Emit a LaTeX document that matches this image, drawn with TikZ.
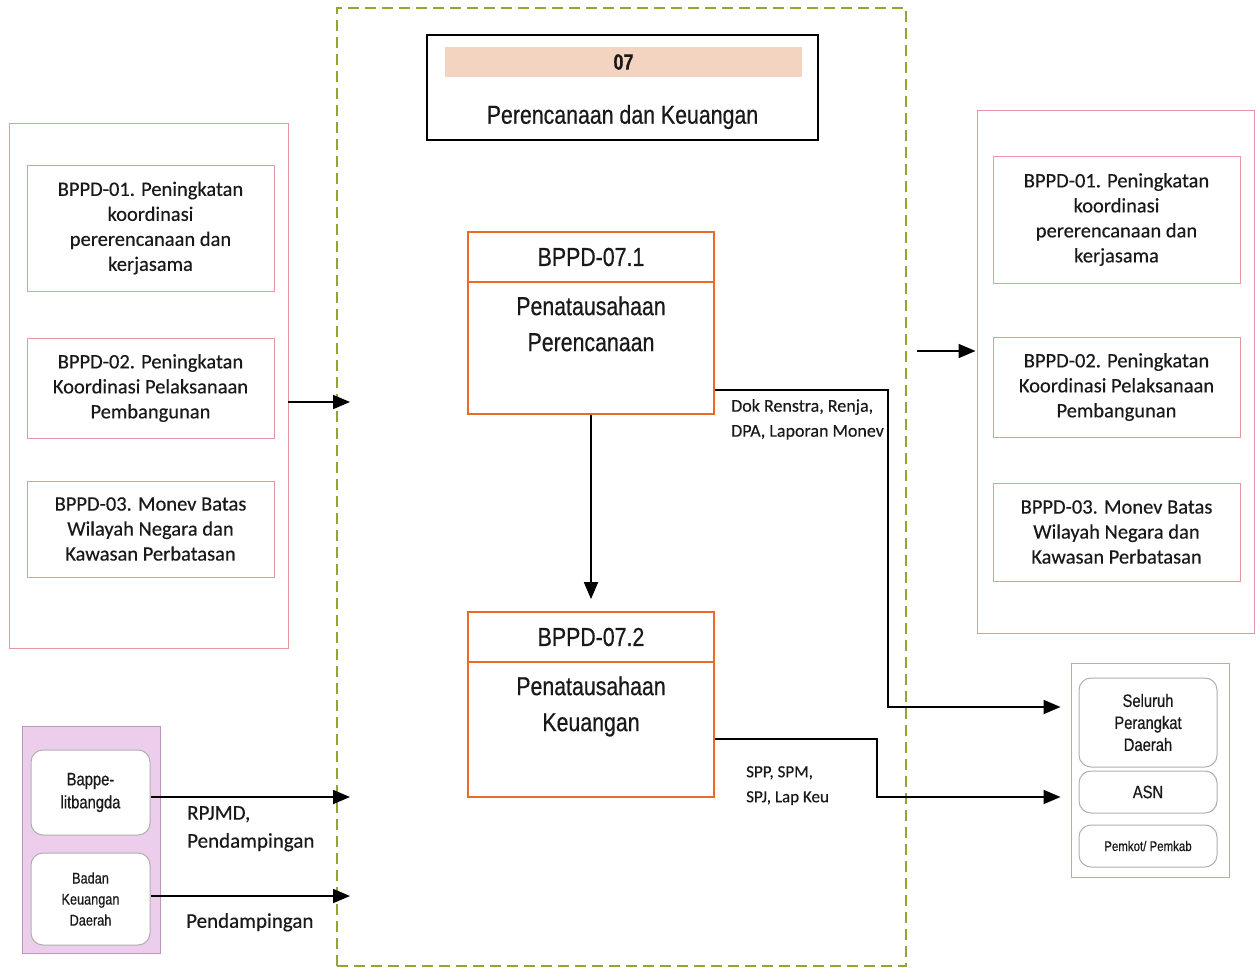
\documentclass[tikz,border=0pt]{standalone}
\usepackage{fontspec}
\setmainfont{Carlito}[FakeBold=0.35]
\newfontfamily\narrowsans{Liberation Sans}[FakeStretch=0.82, FakeBold=0.5]
\usetikzlibrary{arrows.meta,calc}

\definecolor{zonegreen}{RGB}{150,165,45}
\definecolor{pinkline}{RGB}{232,150,160}
\definecolor{orangeline}{RGB}{232,108,40}
\definecolor{peach}{RGB}{242,212,192}
\definecolor{lilac}{RGB}{236,206,236}
\definecolor{lilacline}{RGB}{190,150,190}
\definecolor{greyline}{RGB}{175,175,175}
\definecolor{inktext}{RGB}{25,25,25}

\begin{document}
\begin{tikzpicture}[x=1pt,y=-1pt,
  every node/.style={inner sep=0pt, text=inktext},
  zone/.style={draw=zonegreen, line width=1.5pt, dash pattern=on 11pt off 6pt},
  pinkframe/.style={draw=pinkline, line width=0.9pt},
  itembox/.style={pinkframe, align=center, minimum width=247, font=\fontsize{20.5}{25}\selectfont},
  orangebox/.style={draw=orangeline, line width=1.8pt, minimum width=246},
  titletext/.style={font=\narrowsans\fontsize{26}{28}\selectfont},
  bodytext/.style={align=center, font=\narrowsans\fontsize{26}{36}\selectfont},
  greybox/.style={draw=greyline, line width=1pt, fill=white, rounded corners=12pt,
    minimum width=138, align=center},
  whitebox/.style={draw=greyline, line width=1pt, fill=white, rounded corners=12pt,
    minimum width=119, align=center},
  conn/.style={draw=black, line width=1.8pt, -{Triangle[length=17pt,width=14pt]}},
  flowlabel/.style={align=left, anchor=north west}
]
\useasboundingbox (0,0) rectangle (1256,968);

% dashed zone of the unit
\node[zone, minimum width=569, minimum height=958] (zone) at (621.5,487) {};

% unit header
\node[draw=black, line width=2pt, minimum width=391, minimum height=105] (head) at (622.5,87.5) {};
\node[fill=peach, minimum width=357, minimum height=30,
      font=\narrowsans\bfseries\fontsize{22}{24}\selectfont] (code) at (623.5,62) {07};
\node[font=\narrowsans\fontsize{26}{28}\selectfont] (unitname) at (622.5,117) {Perencanaan dan Keuangan};

% left group of programmes
\node[pinkframe, minimum width=279, minimum height=525] (lout) at (148.5,385.5) {};
\node[itembox, minimum height=126] (l1) at (150.5,228) {BPPD-01. Peningkatan\\koordinasi\\pererencanaan dan\\kerjasama};
\node[itembox, minimum height=100] (l2) at (150.5,388) {BPPD-02. Peningkatan\\Koordinasi Pelaksanaan\\Pembangunan};
\node[itembox, minimum height=96] (l3) at (150.5,529) {BPPD-03. Monev Batas\\Wilayah Negara dan\\Kawasan Perbatasan};

% right group of programmes
\node[pinkframe, minimum width=277, minimum height=523] (rout) at (1115.5,371.5) {};
\node[itembox, minimum height=127] (r1) at (1116.5,219.5) {BPPD-01. Peningkatan\\koordinasi\\pererencanaan dan\\kerjasama};
\node[itembox, minimum height=100] (r2) at (1116.5,387) {BPPD-02. Peningkatan\\Koordinasi Pelaksanaan\\Pembangunan};
\node[itembox, minimum height=98] (r3) at (1116.5,532) {BPPD-03. Monev Batas\\Wilayah Negara dan\\Kawasan Perbatasan};

% sub-units
\node[orangebox, minimum height=50] (t71) at (591,257) {};
\node[titletext] at (t71.center) {BPPD-07.1};
\node[orangebox, minimum height=132] (b71) at (591,348) {};
\node[bodytext, anchor=north] (x71) at ([yshift=-15pt]b71.north) {Penatausahaan\\Perencanaan};

\node[orangebox, minimum height=50] (t72) at (591,637) {};
\node[titletext] at (t72.center) {BPPD-07.2};
\node[orangebox, minimum height=135] (b72) at (591,729.5) {};
\node[bodytext, anchor=north] (x72) at ([yshift=-15pt]b72.north) {Penatausahaan\\Keuangan};

% recipients
\node[pinkframe, minimum width=158, minimum height=214] (brout) at (1150,770) {};
\node[greybox, minimum height=89, font=\narrowsans\fontsize{18}{22}\selectfont] (all) at (1148,722.5) {Seluruh\\Perangkat\\Daerah};
\node[greybox, minimum height=42, font=\narrowsans\fontsize{18}{22}\selectfont] (asn) at (1148,792) {ASN};
\node[greybox, minimum height=42, font=\narrowsans\fontsize{14}{16}\selectfont] (pem) at (1148,846) {Pemkot/ Pemkab};

% supporting agencies
\node[draw=lilacline, fill=lilac, line width=1pt, minimum width=138, minimum height=227] (blout) at (91,839.5) {};
\node[whitebox, minimum height=85, font=\narrowsans\fontsize{18}{23}\selectfont] (bap) at (90.5,792.5) {Bappe-\\litbangda};
\node[whitebox, minimum height=92, font=\narrowsans\fontsize{15.5}{21}\selectfont] (bad) at (90.5,899) {Badan\\Keuangan\\Daerah};

% free ends on the zone border
\coordinate (inprog) at (350,402);
\coordinate (outprog) at (917,351);
\coordinate (inbap) at (350,797);
\coordinate (inbad) at (350,896);

% connectors
\draw[conn] ($(lout.east)+(0,16.5)$) -- (inprog);
\draw[conn] (outprog) -- ($(rout.west)+(-1,-20.5)$);
\draw[conn, shorten >=12pt] (b71.south) -- (t72.north);
\draw[conn] ($(b71.south east)+(0,-25)$) -- ++(173,0) |- ($(brout.west)+(-10,-63)$);
\draw[conn] ($(b72.south east)+(0,-59)$) -- ++(162,0) |- ($(brout.west)+(-10,27)$);
\draw[conn] ($(bap.east)+(0,4.5)$) -- (inbap);
\draw[conn] ($(bad.east)+(0,-3)$) -- (inbad);

% flow labels
\node[flowlabel, font=\fontsize{18}{25}\selectfont] (ldok) at (731,399) {Dok Renstra, Renja,\\DPA, Laporan Monev};
\node[flowlabel, font=\fontsize{17}{25}\selectfont] (lspp) at (746,766) {SPP, SPM,\\SPJ, Lap Keu};
\node[flowlabel, font=\fontsize{21}{28}\selectfont] (lrpj) at (187,806) {RPJMD,\\Pendampingan};
\node[flowlabel, font=\fontsize{21}{28}\selectfont] (lpen) at (186,913) {Pendampingan};
\end{tikzpicture}
\end{document}
